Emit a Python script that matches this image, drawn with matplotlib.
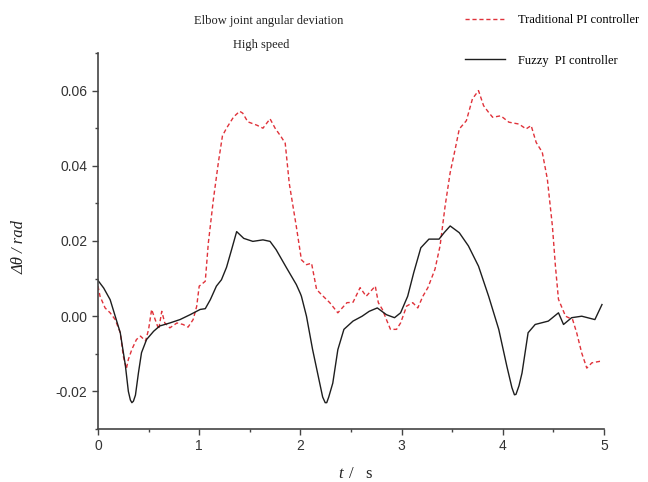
import matplotlib
matplotlib.use("Agg")
import matplotlib.pyplot as plt
from matplotlib.ticker import MultipleLocator, FixedLocator

# Traditional PI controller (red dashed)
t_trad = [0.00, 0.02, 0.07, 0.12, 0.17, 0.22, 0.25, 0.28, 0.30, 0.335, 0.38, 0.42,
          0.47, 0.50, 0.53, 0.565, 0.60, 0.63, 0.66, 0.71, 0.78, 0.84, 0.89, 0.94,
          0.975, 1.00, 1.02, 1.06, 1.09, 1.14, 1.19, 1.23, 1.27, 1.34, 1.40, 1.43,
          1.48, 1.57, 1.63, 1.70, 1.75, 1.81, 1.85, 1.89, 1.96, 2.01, 2.06, 2.11,
          2.16, 2.21, 2.29, 2.37, 2.46, 2.52, 2.59, 2.65, 2.74, 2.77, 2.81, 2.85,
          2.89, 2.95, 2.99, 3.05, 3.11, 3.16, 3.21, 3.26, 3.33, 3.38, 3.43, 3.48,
          3.53, 3.57, 3.64, 3.70, 3.76, 3.81, 3.86, 3.90, 3.98, 4.06, 4.16, 4.23,
          4.28, 4.33, 4.39, 4.44, 4.49, 4.52, 4.55, 4.62, 4.69, 4.73, 4.78, 4.83,
          4.88, 4.96, 4.98]
v_trad = [0.0080, 0.0053, 0.0022, 0.0009, -0.0009, -0.0044, -0.0106, -0.0140, -0.0115,
          -0.0088, -0.0062, -0.0053, -0.0066, -0.0035, 0.0018, -0.0009, -0.0035, 0.0013,
          -0.0018, -0.0031, -0.0018, -0.0022, -0.0029, -0.0009, 0.0026, 0.0080, 0.0084,
          0.0093, 0.0194, 0.0310, 0.0410, 0.0480, 0.0500, 0.0530, 0.0545, 0.0540, 0.0517,
          0.0508, 0.0500, 0.0525, 0.0500, 0.0477, 0.0460, 0.0353, 0.0238, 0.0150, 0.0137,
          0.0141, 0.0071, 0.0057, 0.0036, 0.0009, 0.0036, 0.0037, 0.0076, 0.0053, 0.0080,
          0.0036, 0.0018, -0.0009, -0.0035, -0.0035, -0.0018, 0.0027, 0.0036, 0.0022,
          0.0053, 0.0076, 0.0125, 0.0187, 0.0293, 0.0382, 0.0445, 0.0498, 0.0520, 0.0578,
          0.0600, 0.0560, 0.0542, 0.0529, 0.0533, 0.0516, 0.0511, 0.0498, 0.0507, 0.0462,
          0.0436, 0.0365, 0.0240, 0.0133, 0.0045, 0.0000, -0.0009, -0.0044, -0.0098,
          -0.0138, -0.0124, -0.0120, -0.0120]

# Fuzzy PI controller (black solid)
t_fuzzy = [0.00, 0.056, 0.12, 0.17, 0.22, 0.27, 0.30, 0.32, 0.335, 0.35, 0.37, 0.40,
           0.43, 0.48, 0.55, 0.61, 0.71, 0.81, 0.91, 1.01, 1.06, 1.11, 1.17, 1.22,
           1.27, 1.32, 1.37, 1.44, 1.53, 1.63, 1.70, 1.76, 1.86, 1.96, 2.00, 2.01,
           2.06, 2.12, 2.19, 2.22, 2.245, 2.26, 2.28, 2.32, 2.37, 2.43, 2.52, 2.61,
           2.68, 2.76, 2.85, 2.93, 2.99, 3.06, 3.12, 3.19, 3.27, 3.37, 3.42, 3.48,
           3.57, 3.66, 3.76, 3.86, 3.96, 4.04, 4.09, 4.115, 4.13, 4.16, 4.19, 4.25,
           4.32, 4.45, 4.55, 4.60, 4.68, 4.78, 4.91, 4.98]
v_fuzzy = [0.0095, 0.0075, 0.0044, 0.0000, -0.0044, -0.0130, -0.0200, -0.0223, -0.0230,
           -0.0226, -0.0210, -0.0150, -0.0097, -0.0062, -0.0040, -0.0026, -0.0018,
           -0.0009, 0.0004, 0.0018, 0.0020, 0.0044, 0.0080, 0.0097, 0.0130, 0.0177,
           0.0225, 0.0207, 0.0199, 0.0203, 0.0199, 0.0177, 0.0130, 0.0084, 0.0060,
           0.0053, 0.0000, -0.0088, -0.0177, -0.0215, -0.0230, -0.0230, -0.0215, -0.0178,
           -0.0089, -0.0035, -0.0013, 0.0000, 0.0013, 0.0022, 0.0004, -0.0004, 0.0009,
           0.0053, 0.0116, 0.0182, 0.0205, 0.0205, 0.0222, 0.0240, 0.0222, 0.0187,
           0.0133, 0.0053, -0.0035, -0.0133, -0.0190, -0.0209, -0.0208, -0.0185, -0.0151,
           -0.0044, -0.0022, -0.0013, 0.0009, -0.0022, -0.0004, 0.0000, -0.0009, 0.0031]

y_ticks = [-0.02, 0.00, 0.02, 0.04, 0.06]
y_ticklabels = ["-0.02", "0.00", "0.02", "0.04", "0.06"]
x_ticks = [0, 1, 2, 3, 4, 5]

serif = "Liberation Serif"
plt.rcParams["font.family"] = "Liberation Sans"

fig = plt.figure(figsize=(6.48, 4.82), dpi=100)
ax = fig.add_axes([98 / 648, 1 - 429 / 482, (604 - 98) / 648, (429 - 53) / 482])

ax.plot(t_trad, v_trad, color="#e0323a", linewidth=1.0, linestyle=(0, (3, 2)),
        label="Traditional PI controller")
ax.plot(t_fuzzy, v_fuzzy, color="#1e1e1e", linewidth=1.0, label="Fuzzy  PI controller")

ax.set_xlim(0, 5)
ax.set_ylim(-0.03, 0.07)
ax.set_xticks(x_ticks)
ax.set_xticklabels([str(x) for x in x_ticks])
ax.set_yticks(y_ticks)
ax.set_yticklabels(y_ticklabels)
ax.xaxis.set_minor_locator(MultipleLocator(0.5))
ax.yaxis.set_minor_locator(FixedLocator([-0.03, -0.01, 0.01, 0.03, 0.05, 0.07]))

for side in ("top", "right"):
    ax.spines[side].set_visible(False)
for side in ("left", "bottom"):
    ax.spines[side].set_color("#444444")
    ax.spines[side].set_linewidth(1.2)

ax.tick_params(which="major", direction="out", length=4.5, width=1.0,
               color="#444444", labelsize=10, labelcolor="#333333", pad=3)
ax.tick_params(which="minor", direction="out", length=2.5, width=1.0, color="#444444")

# titles and axis labels
fig.text(269 / 648, 1 - 21 / 482, "Elbow joint angular deviation", ha="center",
         va="center", family=serif, fontsize=9, color="#222222")
fig.text(261 / 648, 1 - 45 / 482, "High speed", ha="center", va="center",
         family=serif, fontsize=9, color="#222222")
fig.text(20 / 648, 1 - 247 / 482, "Δθ / rad", rotation=90, ha="center", va="center",
         family=serif, style="italic", fontsize=12, color="#222222")
fig.text(343 / 648, 1 - 474 / 482, "t", ha="right", va="center",
         family=serif, style="italic", fontsize=12, color="#222222")
fig.text(349 / 648, 1 - 474 / 482, "/   s", ha="left", va="center",
         family=serif, fontsize=12, color="#222222")

fig.legend(loc="upper left", bbox_to_anchor=(465 / 648, 1 - 14 / 482), frameon=False,
           borderpad=0, borderaxespad=0, handlelength=3.2, handletextpad=1.0,
           labelspacing=2.3, prop={"family": serif, "size": 9})

fig.savefig("out.png", dpi=100)
